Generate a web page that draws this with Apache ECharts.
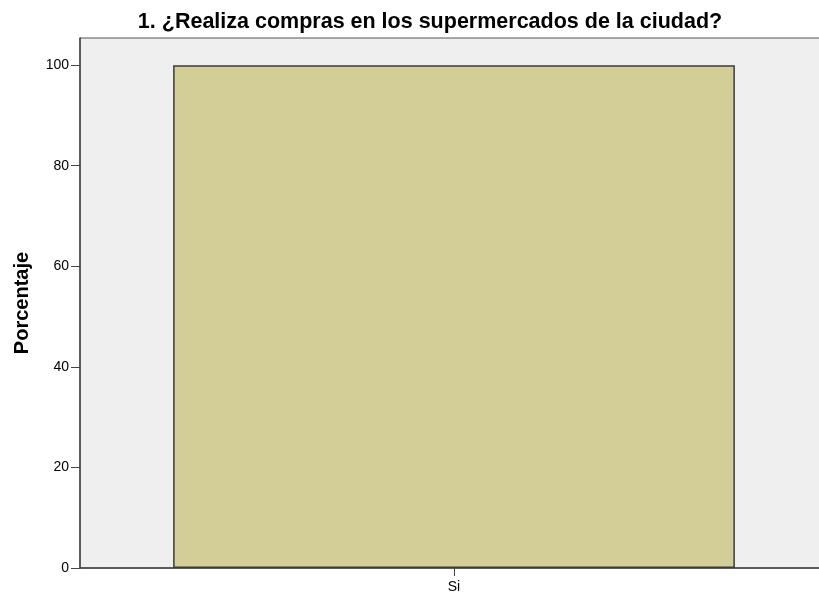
<!DOCTYPE html>
<html>
<head>
<meta charset="utf-8">
<script src="https://cdn.jsdelivr.net/npm/echarts@6/dist/echarts.min.js"></script>
<style>
  html, body { margin: 0; padding: 0; background: #fff; }
  #chart { width: 819px; height: 593px; }
</style>
</head>
<body>
<div id="chart"></div>
<script>
var categorias = ['Si'];
var porcentajes = [100];
var ticksY = [0, 20, 40, 60, 80, 100];

var myChart = echarts.init(document.getElementById('chart'));

var option = {
    animation: false,
    title: {
        text: '1. ¿Realiza compras en los supermercados de la ciudad?',
        left: 425,
        textAlign: 'center',
        top: 6,
        textStyle: {
            fontFamily: 'Liberation Sans, Arial',
            fontSize: 21.5,
            fontWeight: 'bold',
            color: '#000'
        }
    },
    grid: {
        left: 80,
        top: 38,
        right: -9,
        bottom: 25,
        outerBoundsMode: 'none',
        containLabel: false,
        show: true,
        backgroundColor: '#efefef',
        borderColor: '#555',
        borderWidth: 1
    },
    xAxis: [
        {
            type: 'category',
            data: categorias,
            axisLine: { lineStyle: { color: '#444', width: 1.5 } },
            axisTick: { show: false },
            axisLabel: {
                fontFamily: 'Liberation Sans, Arial',
                fontSize: 14,
                color: '#000',
                margin: 12
            }
        },
        {
            // eje auxiliar solo para la marca bajo la categoría
            type: 'value',
            position: 'bottom',
            min: 0,
            max: 1,
            axisLine: { show: false },
            axisTick: { show: true, customValues: [0.5], length: 8, lineStyle: { color: '#444' } },
            axisLabel: { show: false },
            splitLine: { show: false }
        }
    ],
    yAxis: {
        type: 'value',
        min: 0,
        max: 105.4,
        interval: 20,
        name: 'Porcentaje',
        nameLocation: 'middle',
        nameGap: 48,
        nameTextStyle: {
            fontFamily: 'Liberation Sans, Arial',
            fontSize: 20,
            fontWeight: 'bold',
            color: '#000'
        },
        axisLine: { show: true, lineStyle: { color: '#444', width: 1.5 } },
        axisTick: { show: true, length: 9, lineStyle: { color: '#444' } },
        splitLine: { show: false },
        axisLabel: {
            fontFamily: 'Liberation Sans, Arial',
            fontSize: 14,
            color: '#000',
            margin: 11,
            showMaxLabel: false,
            formatter: function (v) {
                return ticksY.indexOf(v) >= 0 ? String(v) : '';
            }
        }
    },
    series: [
        {
            type: 'bar',
            data: porcentajes,
            barWidth: '75.1%',
            itemStyle: {
                color: '#d3cd98',
                borderColor: '#3c3c3c',
                borderWidth: 1.5
            }
        }
    ]
};

myChart.setOption(option);
</script>
</body>
</html>
